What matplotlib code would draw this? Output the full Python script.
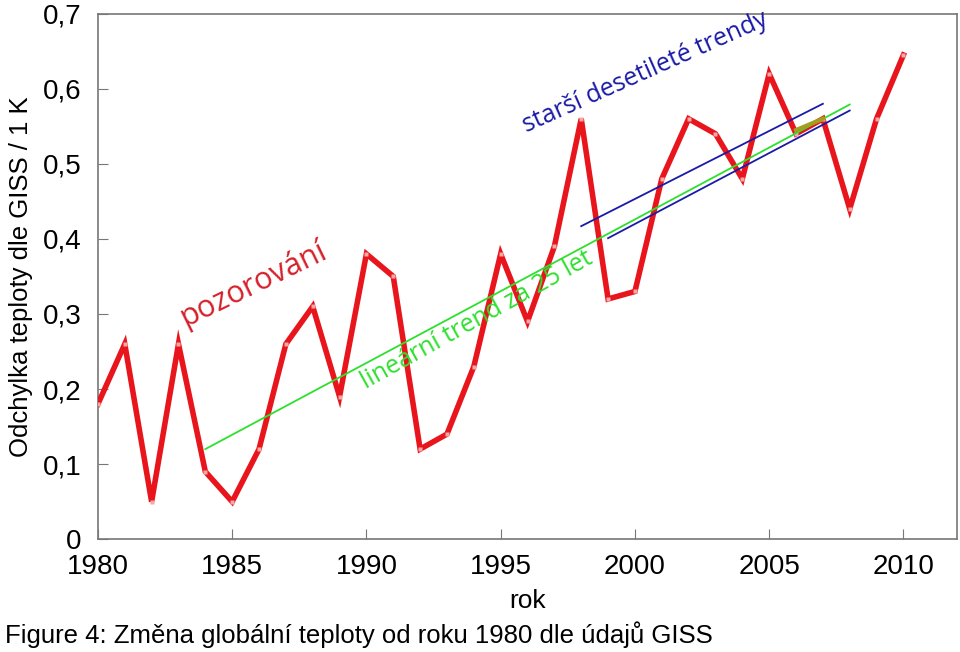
import numpy as np
import matplotlib.pyplot as plt

plt.rcParams.update({
    "font.family": ["Liberation Sans", "DejaVu Sans"],
    "font.size": 15,
})

# ── Data ─────────────────────────────────────────────────────────
years = list(range(1980, 2011))
anomaly = [0.18, 0.26, 0.05, 0.26, 0.09, 0.05, 0.12, 0.26, 0.31, 0.19,
           0.38, 0.35, 0.12, 0.14, 0.23, 0.38, 0.29, 0.39, 0.56, 0.32,
           0.33, 0.48, 0.56, 0.54, 0.48, 0.62, 0.54, 0.56, 0.44, 0.56,
           0.645]

trend25_x = [1984, 2008]
trend25_y = [0.12, 0.579]
decade1_x = [1998, 2007]
decade1_y = [0.417, 0.580]
decade2_x = [1999, 2008]
decade2_y = [0.401, 0.571]
overlap_x = [2006, 2007]
overlap_y = [0.545, 0.560]

xticks = [1980, 1985, 1990, 1995, 2000, 2005, 2010]
yticks = [0, 0.1, 0.2, 0.3, 0.4, 0.5, 0.6, 0.7]
ytick_labels = ["0", "0,1", "0,2", "0,3", "0,4", "0,5", "0,6", "0,7"]

RED = "#e8161c"
GREEN = "#2ee02e"
BLUE = "#1a1aa8"

fig = plt.figure(figsize=(9.6, 6.52), dpi=100)
ax = fig.add_axes([0.102, 0.173, 0.895, 0.806])

ax.plot(years, anomaly, color=RED, lw=4.0, solid_joinstyle="miter",
        marker="s", ms=3, mfc="#f4a8a8", mec="none", zorder=3)
ax.plot(trend25_x, trend25_y, color=GREEN, lw=1.3, zorder=4)
ax.plot(decade1_x, decade1_y, color=BLUE, lw=1.3, zorder=4)
ax.plot(decade2_x, decade2_y, color=BLUE, lw=1.3, zorder=4)
ax.plot(overlap_x, overlap_y, color="#a0a020", lw=3, zorder=5)

ax.text(1985.8, 0.34, "pozorování", color="#d4202a", fontsize=22,
        family="Open Sans", rotation=26, ha="center", va="center")
ax.text(1994.1, 0.292, "lineární trend za 25 let", color=GREEN,
        fontsize=18, family="Open Sans", rotation=29,
        ha="center", va="center")
ax.text(2000.4, 0.622, "starší desetileté trendy", color=BLUE,
        fontsize=18, family="Open Sans", rotation=24,
        ha="center", va="center")

ax.set_xlim(1980, 2012)
ax.set_ylim(0, 0.7)
ax.set_xticks(xticks)
ax.set_yticks(yticks)
ax.set_yticklabels(ytick_labels)
ax.tick_params(direction="in", length=7, color="#777777", labelsize=20,
               top=False, right=False)
ax.tick_params(axis="y", pad=12)
ax.tick_params(axis="x", pad=11)
for sp in ax.spines.values():
    sp.set_color("#777777")
    sp.set_linewidth(1.2)

ax.set_xlabel("rok", fontsize=19, labelpad=6)
ax.set_ylabel("Odchylka teploty dle GISS / 1 K", fontsize=18.5, labelpad=7)

fig.text(0.005, 0.027, "Figure 4: Změna globální teploty od roku 1980 dle údajů GISS",
         fontsize=18.5, ha="left", va="center")

fig.savefig("out.png", dpi=100)
